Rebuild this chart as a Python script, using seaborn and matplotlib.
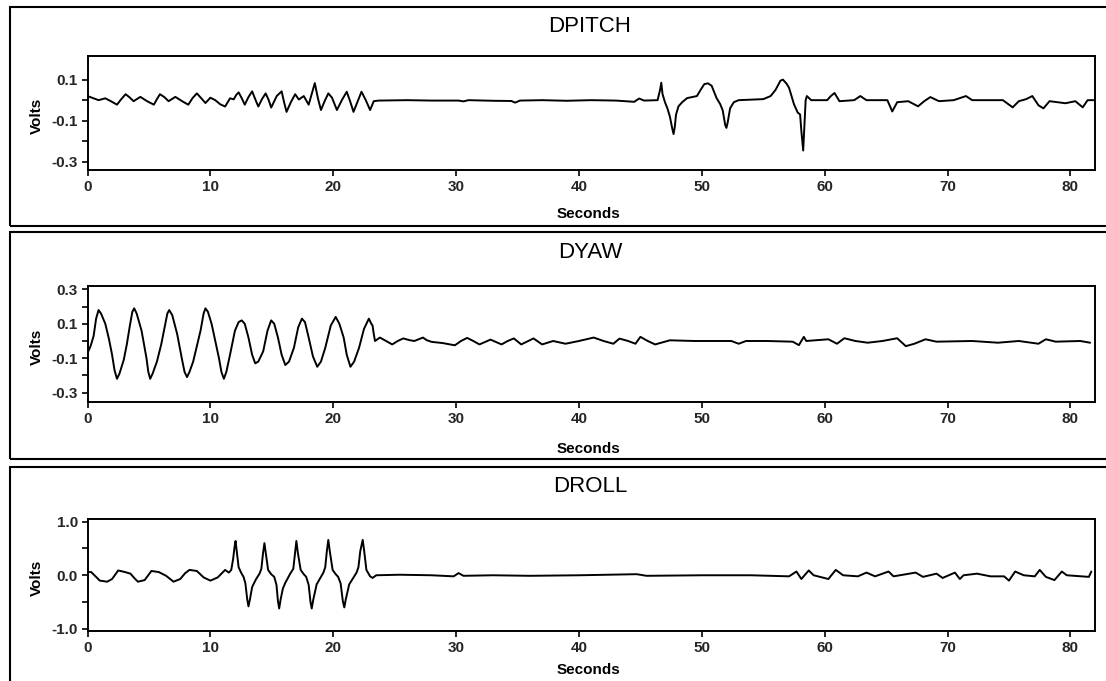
import numpy as np
import pandas as pd
import matplotlib
matplotlib.use("Agg")
import matplotlib.pyplot as plt
from matplotlib.patches import Rectangle
import seaborn as sns

# ---------------- data ----------------
pitch_t = [0.0, 0.45, 0.9, 1.45, 1.9, 2.4, 2.75, 3.1, 3.4, 3.75, 4.3, 4.85, 5.4, 5.65, 5.9, 6.25,
           6.6, 7.15, 7.7, 8.2, 8.55, 8.9, 9.25, 9.6, 10.0, 10.4, 10.8, 11.2, 11.6, 11.9, 12.1,
           12.3, 12.55, 12.8, 13.1, 13.4, 13.65, 13.9, 14.2, 14.5, 14.75, 14.95, 15.4, 15.8,
           16.0, 16.2, 16.55, 16.9, 17.2, 17.6, 18.0, 18.25, 18.5, 18.75, 19.0, 19.3, 19.6,
           19.9, 20.3, 20.7, 21.1, 21.4, 21.65, 22.0, 22.3, 22.65, 23.0, 23.3, 23.7,
           26.0, 28.0, 30.2, 30.6, 31.0, 33.0, 34.5, 34.8, 35.2, 37.0, 39.0, 41.0, 43.0, 44.5,
           44.9, 45.3, 46.4, 46.6, 46.7, 46.8, 47.0, 47.2, 47.4, 47.6, 47.7, 47.8, 47.9, 48.1,
           48.4, 48.8, 49.2, 49.6, 49.9, 50.2, 50.5, 50.8, 51.0, 51.2, 51.5, 51.7, 51.9, 52.0,
           52.1, 52.3, 52.6, 53.0, 55.0, 55.6, 56.0, 56.4, 56.6, 56.9, 57.1, 57.3, 57.5, 57.8,
           58.0, 58.1, 58.25, 58.35, 58.45, 58.55, 58.9, 60.2, 60.5, 60.8, 61.0, 61.2, 62.4,
           62.9, 63.4, 65.1, 65.5, 65.9, 66.8, 67.6, 68.1, 68.6, 69.3, 70.5, 71.5, 72.0, 74.5,
           75.3, 75.8, 76.4, 76.9, 77.4, 77.8, 78.3, 79.6, 80.4, 81.0, 81.4, 81.9]
pitch_v = [0.02, 0.01, 0.0, 0.009, -0.005, -0.022, 0.005, 0.029, 0.015, -0.005, 0.016, -0.005,
           -0.022, 0.005, 0.029, 0.015, -0.005, 0.016, -0.005, -0.022, 0.01, 0.033, 0.01,
           -0.014, 0.012, 0.0, -0.02, -0.031, 0.009, 0.004, 0.025, 0.038, 0.01, -0.022, 0.015,
           0.043, 0.005, -0.031, 0.005, 0.033, 0.0, -0.036, 0.02, 0.043, -0.01, -0.057, -0.01,
           0.029, 0.003, 0.02, -0.022, 0.03, 0.083, 0.01, -0.048, -0.005, 0.033, 0.012, -0.048,
           0.0, 0.041, -0.01, -0.057, -0.005, 0.041, 0.0, -0.048, -0.005, -0.002,
           0.0, -0.002, -0.002, -0.006, 0.0, -0.003, -0.004, -0.012, -0.002, 0.0, -0.003, 0.0,
           -0.002, -0.008, 0.008, -0.002, 0.0, 0.05, 0.085, 0.03, -0.01, -0.04, -0.08, -0.14,
           -0.165, -0.13, -0.07, -0.03, -0.01, 0.01, 0.015, 0.02, 0.05, 0.078, 0.082, 0.07,
           0.04, 0.01, -0.02, -0.05, -0.12, -0.135, -0.11, -0.04, -0.01, 0.0, 0.005, 0.02,
           0.05, 0.095, 0.1, 0.08, 0.06, 0.02, -0.02, -0.06, -0.07, -0.15, -0.245, -0.12, 0.0,
           0.02, 0.0, 0.0, 0.02, 0.035, 0.015, -0.005, 0.0, 0.02, 0.0, 0.0, -0.055, -0.01,
           -0.005, -0.03, -0.005, 0.015, -0.005, 0.0, 0.02, 0.0, 0.0, -0.035, -0.005, 0.005,
           0.02, -0.025, -0.04, -0.005, -0.015, -0.005, -0.035, 0.0, 0.0]

yaw_t = [0.0, 0.25, 0.5, 0.7, 0.9, 1.1, 1.45, 1.75, 2.0, 2.2, 2.4, 2.6, 2.95, 3.2, 3.45, 3.65,
         3.8, 4.0, 4.4, 4.8, 4.95, 5.1, 5.3, 5.65, 6.0, 6.3, 6.5, 6.65, 6.9, 7.3, 7.7, 7.9,
         8.1, 8.3, 8.6, 8.9, 9.2, 9.45, 9.6, 9.8, 10.1, 10.4, 10.7, 10.9, 11.1, 11.3, 11.6,
         12.0, 12.3, 12.55, 12.8, 13.1, 13.4, 13.65, 13.9, 14.3, 14.65, 14.95, 15.2, 15.5,
         15.8, 16.1, 16.4, 16.8, 17.15, 17.45, 17.7, 18.0, 18.35, 18.7, 19.0, 19.35, 19.8,
         20.2, 20.5, 20.85, 21.1, 21.4, 21.7, 22.1, 22.5, 22.9, 23.1, 23.2, 23.3, 23.4,
         23.8, 24.3, 24.8, 25.25, 25.7, 26.2, 26.6, 27.3, 27.6, 28.0, 28.9, 29.9, 30.4, 30.9,
         31.4, 31.9, 32.8, 33.7, 34.2, 34.7, 35.3, 36.3, 37.0, 37.9, 38.9, 40.0, 41.2, 42.0,
         42.8, 43.3, 44.0, 44.6, 45.0, 45.6, 46.2, 47.4, 49.4, 52.4, 53.0, 53.6, 55.3, 57.4,
         57.9, 58.3, 58.5, 60.3, 61.0, 61.6, 62.5, 63.5, 64.7, 65.9, 66.6, 67.3, 68.2, 69.1,
         72.0, 74.1, 75.8, 77.4, 78.0, 78.8, 80.8, 81.6]
yaw_v = [-0.07, -0.03, 0.03, 0.13, 0.18, 0.16, 0.10, 0.01, -0.08, -0.17, -0.22, -0.19, -0.11,
         -0.02, 0.09, 0.17, 0.19, 0.16, 0.06, -0.10, -0.18, -0.22, -0.19, -0.12, -0.02, 0.09,
         0.16, 0.18, 0.15, 0.04, -0.11, -0.18, -0.21, -0.18, -0.12, -0.03, 0.06, 0.16, 0.19,
         0.17, 0.10, 0.0, -0.10, -0.18, -0.22, -0.18, -0.08, 0.06, 0.11, 0.12, 0.10, 0.02,
         -0.08, -0.13, -0.12, -0.06, 0.06, 0.12, 0.10, 0.02, -0.08, -0.14, -0.12, -0.04,
         0.08, 0.13, 0.11, 0.02, -0.09, -0.15, -0.12, -0.04, 0.09, 0.14, 0.10, 0.02, -0.08,
         -0.15, -0.12, -0.04, 0.07, 0.13, 0.10, 0.09, 0.04, 0.0,
         0.02, 0.0, -0.02, 0.0, 0.015, 0.005, 0.0, 0.02, 0.005, -0.005, -0.012, -0.025, 0.0,
         0.018, 0.0, -0.02, 0.008, -0.02, 0.0, 0.015, -0.02, 0.015, -0.02, 0.0, -0.016, 0.0,
         0.02, 0.0, -0.016, 0.014, 0.0, -0.016, 0.024, 0.0, -0.02, 0.004, 0.0, 0.0, -0.016,
         0.0, 0.0, -0.004, -0.024, 0.024, 0.0, 0.01, -0.016, 0.016, 0.0, -0.01, 0.0, 0.016,
         -0.03, -0.016, 0.01, -0.004, 0.0, -0.01, 0.0, -0.016, 0.01, -0.004, 0.0, -0.01]

roll_t = [0.0, 0.3, 0.65, 1.0, 1.6, 2.0, 2.5, 3.05, 3.5, 3.8, 4.1, 4.65, 5.2, 5.8, 6.4, 7.0,
          7.55, 7.95, 8.3, 8.9, 9.45, 10.0, 10.6, 11.2, 11.5, 11.7, 11.85, 11.98, 12.05, 12.15,
          12.3, 12.5, 12.7, 12.85, 13.0, 13.1, 13.22, 13.4, 13.7, 14.0, 14.15, 14.28, 14.4,
          14.52, 14.7, 14.95, 15.2, 15.38, 15.5, 15.6, 15.72, 15.9, 16.1, 16.5, 16.75, 16.88,
          17.0, 17.12, 17.35, 17.6, 17.8, 18.0, 18.15, 18.25, 18.38, 18.65, 19.2, 19.35,
          19.48, 19.6, 19.72, 19.95, 20.2, 20.4, 20.6, 20.78, 20.9, 21.02, 21.3, 21.9, 22.05,
          22.2, 22.4, 22.52, 22.7, 23.0, 23.2, 23.5, 25.4, 28.0, 29.8, 30.2, 30.6, 33.0, 36.0,
          40.0, 44.7, 45.5, 50.0, 54.0, 57.1, 57.7, 58.1, 58.7, 59.1, 60.3, 60.9, 61.5, 62.7,
          63.4, 64.1, 65.2, 65.6, 67.4, 68.0, 69.1, 69.6, 70.6, 71.0, 71.3, 72.4, 73.5, 74.6,
          75.0, 75.5, 76.2, 77.1, 77.5, 78.0, 78.7, 79.3, 79.7, 81.5, 81.7]
roll_v = [0.06, 0.06, -0.02, -0.1, -0.12, -0.07, 0.09, 0.06, 0.03, -0.05, -0.12, -0.09, 0.08,
          0.06, -0.01, -0.12, -0.07, 0.04, 0.1, 0.08, -0.04, -0.1, -0.04, 0.1, 0.05, 0.1, 0.3,
          0.55, 0.64, 0.45, 0.15, 0.05, -0.03, -0.15, -0.45, -0.58, -0.45, -0.22, -0.08, 0.03,
          0.12, 0.4, 0.6, 0.4, 0.1, 0.02, -0.03, -0.18, -0.48, -0.62, -0.45, -0.25, -0.14,
          0.03, 0.12, 0.4, 0.64, 0.42, 0.1, 0.02, -0.03, -0.18, -0.5, -0.62, -0.45, -0.17,
          0.05, 0.15, 0.45, 0.66, 0.45, 0.1, 0.02, -0.03, -0.15, -0.48, -0.6, -0.45, -0.17,
          0.05, 0.15, 0.45, 0.66, 0.45, 0.1, -0.02, -0.05, 0.0, 0.01, 0.0, -0.02, 0.04, -0.01,
          0.0, -0.01, 0.0, 0.02, -0.01, 0.0, 0.0, -0.02, 0.07, -0.07, 0.09, 0.0, -0.07, 0.1,
          0.0, -0.02, 0.05, -0.02, 0.07, -0.02, 0.05, -0.03, 0.03, -0.05, 0.05, -0.07, 0.0,
          0.03, -0.02, -0.02, -0.1, 0.07, 0.0, -0.02, 0.1, -0.03, -0.09, 0.07, 0.0, -0.03, 0.07]

titles = ["DPITCH", "DYAW", "DROLL"]
x_ticks = [0, 10, 20, 30, 40, 50, 60, 70, 80]
y_major = [[0.1, -0.1, -0.3], [0.3, 0.1, -0.1, -0.3], [1.0, 0.0, -1.0]]
y_minor = [[0.0, -0.2], [0.2, 0.0, -0.2], [0.5, -0.5]]
y_limits = [(-0.34, 0.215), (-0.355, 0.32), (-1.04, 1.05)]
x_label = "Seconds"
y_label = "Volts"

# ---------------- style ----------------
sns.set_theme(style="ticks")
plt.rcParams["font.family"] = ["Liberation Sans", "DejaVu Sans"]
plt.rcParams["axes.unicode_minus"] = False

W, H = 1106, 681
fig = plt.figure(figsize=(W / 100, H / 100), dpi=100)
fig.patch.set_facecolor("white")

def fx(px):
    return px / W

def fy(py):
    return 1 - py / H

# pixel layout: (axes top, axes bottom, title y, xlabel y, box top, box bottom)
layout = [(56, 170, 27, 214, 7, 226),
          (286, 402, 252, 449, 232, 459),
          (519, 631, 487, 670, 467, 700)]
ax_left, ax_right = 87.5, 1095

series = [(pitch_t, pitch_v), (yaw_t, yaw_v), (roll_t, roll_v)]

for i, ((t, v), (top, bot, ty, xly, btop, bbot)) in enumerate(zip(series, layout)):
    ax = fig.add_axes([fx(ax_left), fy(bot), fx(ax_right - ax_left), (bot - top) / H])
    df = pd.DataFrame({"t": t, "v": v})
    sns.lineplot(data=df, x="t", y="v", ax=ax, color="black", linewidth=1.4,
                 estimator=None, sort=False)
    ax.set_xlim(0, 82)
    ax.set_ylim(*y_limits[i])
    ax.set_xticks(x_ticks)
    ax.set_xticklabels([str(x) for x in x_ticks])
    ax.set_yticks(y_major[i])
    ax.set_yticklabels([f"{y:.1f}" for y in y_major[i]])
    ax.set_yticks(y_minor[i], minor=True)
    ax.set_xlabel("")
    ax.set_ylabel("")
    for s in ax.spines.values():
        s.set_visible(True)
        s.set_color("black")
        s.set_linewidth(1.4)
    ax.tick_params(axis="both", which="both", direction="out", length=4, width=1.2,
                   color="black", labelsize=11, pad=3)
    for lab in ax.get_xticklabels() + ax.get_yticklabels():
        lab.set_fontweight("bold")
    ax.grid(False)
    ax.set_facecolor("white")

    # panel title, x label and y label
    fig.text(fx(590), fy(ty), titles[i], ha="center", va="center", fontsize=16,
             color="black")
    fig.text(fx(588), fy(xly), x_label, ha="center", va="center", fontsize=11,
             fontweight="bold", color="black")
    fig.text(fx(37), fy((top + bot) / 2 + 3), y_label, ha="center", va="center",
             rotation=90, fontsize=11, fontweight="bold", color="black")

    # outer frame of the panel
    fig.patches.append(Rectangle((fx(10), fy(bbot)), fx(1110 - 10), (bbot - btop) / H,
                                 transform=fig.transFigure, fill=False,
                                 edgecolor="black", linewidth=1.5))

fig.savefig("out.png", dpi=100, facecolor="white")
